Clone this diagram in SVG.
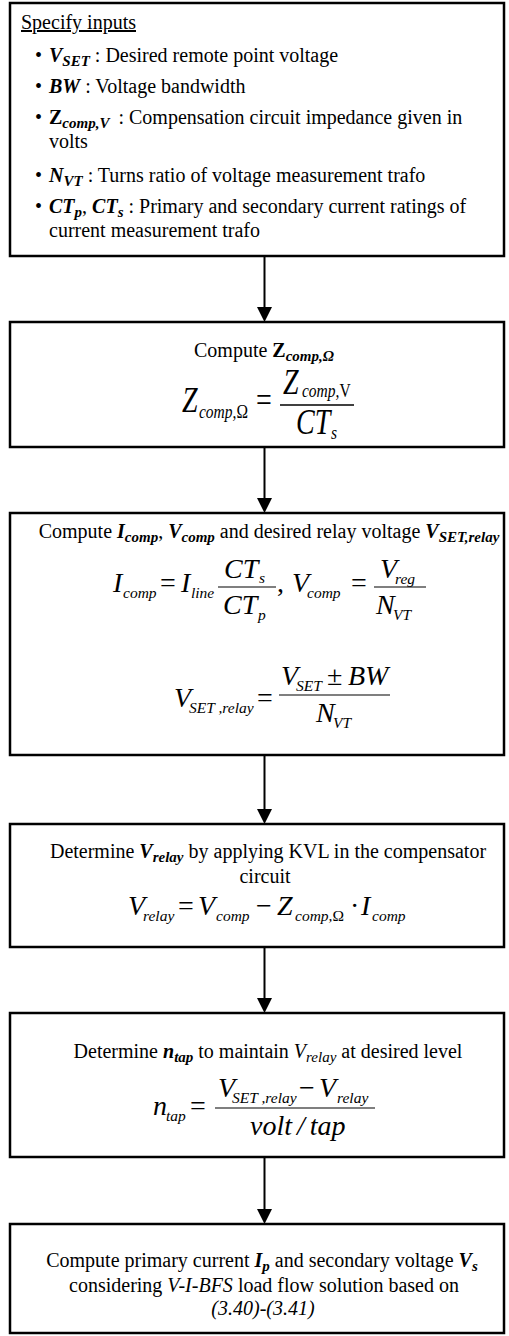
<svg xmlns="http://www.w3.org/2000/svg" width="509" height="1336" viewBox="0 0 509 1336">
<style>
text{font-family:"Liberation Serif","Times New Roman",serif;font-size:20px;fill:#000}
.box{fill:#fff;stroke:#000;stroke-width:2.5}
.bi{font-weight:bold;font-style:italic}
.b{font-weight:bold}
.it{font-style:italic}
.sb{font-size:15px}
.m{font-size:28px;font-style:italic}
.mu{font-size:28px;font-style:normal}
.s{font-size:15.5px;font-style:italic}
.su{font-size:15.5px;font-style:normal}
.bar{stroke:#000;stroke-width:1.1}
.conn line{stroke:#000;stroke-width:2}
</style>
<defs>
<marker id="ah" markerUnits="userSpaceOnUse" markerWidth="16" markerHeight="16" refX="7" refY="7.5" orient="auto">
<path d="M0,0 L15,7.5 L0,15 Z" fill="#000"/>
</marker>
</defs>

<g id="conn" class="conn">
<line x1="264.5" y1="256" x2="264.5" y2="314" marker-end="url(#ah)"/>
<line x1="264.5" y1="447" x2="264.5" y2="505" marker-end="url(#ah)"/>
<line x1="264.5" y1="755" x2="264.5" y2="816" marker-end="url(#ah)"/>
<line x1="264.5" y1="947" x2="264.5" y2="1005" marker-end="url(#ah)"/>
<line x1="264.5" y1="1157" x2="264.5" y2="1216" marker-end="url(#ah)"/>
</g>

<g id="n1">
<rect class="box" x="10" y="3" width="494" height="253"/>
<text x="21" y="29" text-decoration="underline">Specify inputs</text>
<text x="35" y="62">•</text>
<text x="49" y="62"><tspan class="bi">V</tspan><tspan class="bi sb" dy="4">SET</tspan><tspan dy="-4"> : Desired remote point voltage</tspan></text>
<text x="35" y="93">•</text>
<text x="49" y="93"><tspan class="bi">BW</tspan> : Voltage bandwidth</text>
<text x="35" y="124">•</text>
<text x="49" y="124"><tspan class="b">Z</tspan><tspan class="bi sb" dy="4">comp,V</tspan><tspan dy="-4" dx="4"> : Compensation circuit impedance given in</tspan></text>
<text x="49" y="148">volts</text>
<text x="35" y="182">•</text>
<text x="49" y="182"><tspan class="bi">N</tspan><tspan class="bi sb" dy="4">VT</tspan><tspan dy="-4"> : Turns ratio of voltage measurement trafo</tspan></text>
<text x="35" y="213">•</text>
<text x="49" y="213"><tspan class="bi">CT</tspan><tspan class="bi sb" dy="4">p</tspan><tspan dy="-4">, </tspan><tspan class="bi">CT</tspan><tspan class="bi sb" dy="4">s</tspan><tspan dy="-4"> : Primary and secondary current ratings of</tspan></text>
<text x="49" y="237">current measurement trafo</text>
</g>

<g id="n2">
<rect class="box" x="10" y="322" width="494" height="125"/>
<text x="264" y="357" text-anchor="middle">Compute <tspan class="b">Z</tspan><tspan class="bi sb" dy="4">comp,Ω</tspan></text>
<g transform="translate(0,412) scale(1,1.25)">
<text class="m" x="182" y="0">Z</text>
<text class="s" x="199" y="4.8">comp,<tspan class="su">Ω</tspan></text>
<text class="mu" x="256" y="0">=</text>
<line class="bar" x1="280" y1="-5.6" x2="354" y2="-5.6" stroke-width="0.9"/>
<text class="m" x="283" y="-14.4">Z</text>
<text class="s" x="302" y="-12">comp,<tspan class="su">V</tspan></text>
<text class="m" x="296" y="17.6">CT</text>
<text class="s" x="331" y="21.6">s</text>
</g>
</g>

<g id="n3">
<rect class="box" x="10" y="513" width="494" height="242"/>
<text x="269" y="538" text-anchor="middle">Compute <tspan class="bi">I</tspan><tspan class="bi sb" dy="4">comp</tspan><tspan dy="-4">, </tspan><tspan class="bi">V</tspan><tspan class="bi sb" dy="4">comp</tspan><tspan dy="-4"> and desired relay voltage </tspan><tspan class="bi">V</tspan><tspan class="bi sb" dy="4">SET,relay</tspan></text>
<text class="m" x="113" y="592">I</text>
<text class="s" x="123" y="598">comp</text>
<text class="mu" x="160" y="592">=</text>
<text class="m" x="181" y="592">I</text>
<text class="s" x="191" y="598">line</text>
<line class="bar" x1="218" y1="587" x2="276" y2="587"/>
<text class="m" x="224" y="578">CT</text>
<text class="s" x="259" y="583">s</text>
<text class="m" x="223" y="614">CT</text>
<text class="s" x="258" y="620">p</text>
<text class="mu" x="277" y="592">,</text>
<text class="m" x="292" y="592">V</text>
<text class="s" x="307" y="598">comp</text>
<text class="mu" x="351" y="592">=</text>
<line class="bar" x1="374" y1="587" x2="426" y2="587"/>
<text class="m" x="380" y="578">V</text>
<text class="s" x="395" y="584">reg</text>
<text class="m" x="376" y="614">N</text>
<text class="s" x="393" y="620">VT</text>

<text class="m" x="174" y="707">V</text>
<text class="s" x="189" y="713">SET ,relay</text>
<text class="mu" x="257" y="707">=</text>
<line class="bar" x1="279" y1="695" x2="390" y2="695"/>
<text class="m" x="281" y="685">V</text>
<text class="s" x="296" y="691">SET</text>
<text class="mu" x="327" y="685">±</text>
<text class="m" x="348" y="685">BW</text>
<text class="m" x="316" y="722">N</text>
<text class="s" x="333" y="728">VT</text>
</g>

<g id="n4">
<rect class="box" x="10" y="824" width="494" height="123"/>
<text x="268" y="858" text-anchor="middle">Determine <tspan class="bi">V</tspan><tspan class="bi sb" dy="4">relay</tspan><tspan dy="-4"> by applying KVL in the compensator</tspan></text>
<text x="265" y="883" text-anchor="middle">circuit</text>
<text class="m" x="128" y="915">V</text>
<text class="s" x="143" y="921">relay</text>
<text class="mu" x="178" y="915">=</text>
<text class="m" x="198" y="915">V</text>
<text class="s" x="216" y="921">comp</text>
<text class="mu" x="256" y="915">−</text>
<text class="m" x="277" y="915">Z</text>
<text class="s" x="295" y="921">comp,<tspan class="su">Ω</tspan></text>
<text class="mu" x="350" y="915">·</text>
<text class="m" x="361" y="915">I</text>
<text class="s" x="372" y="921">comp</text>
</g>

<g id="n5">
<rect class="box" x="10" y="1013" width="494" height="144"/>
<text x="268" y="1058" text-anchor="middle">Determine <tspan class="bi">n</tspan><tspan class="bi sb" dy="4">tap</tspan><tspan dy="-4"> to maintain </tspan><tspan class="it">V</tspan><tspan class="it sb" dy="4">relay</tspan><tspan dy="-4"> at desired level</tspan></text>
<text class="m" x="153" y="1115">n</text>
<text class="s" x="166" y="1121">tap</text>
<text class="mu" x="190" y="1115">=</text>
<line class="bar" x1="215" y1="1108" x2="375" y2="1108"/>
<text class="m" x="218" y="1097">V</text>
<text class="s" x="232" y="1103">SET ,relay</text>
<text class="mu" x="299" y="1097">−</text>
<text class="m" x="319" y="1097">V</text>
<text class="s" x="337" y="1103">relay</text>
<text class="m" x="250" y="1135">volt<tspan dx="5">/</tspan><tspan dx="5">tap</tspan></text>
</g>

<g id="n6">
<rect class="box" x="10" y="1224" width="494" height="109"/>
<text x="262" y="1267" text-anchor="middle">Compute primary current <tspan class="bi">I</tspan><tspan class="bi sb" dy="4">p</tspan><tspan dy="-4"> and secondary voltage </tspan><tspan class="bi">V</tspan><tspan class="bi sb" dy="4">s</tspan></text>
<text x="264" y="1292" text-anchor="middle">considering <tspan class="it">V-I-BFS</tspan> load flow solution based on</text>
<text x="263" y="1315" text-anchor="middle" class="it">(3.40)-(3.41)</text>
</g>
</svg>
